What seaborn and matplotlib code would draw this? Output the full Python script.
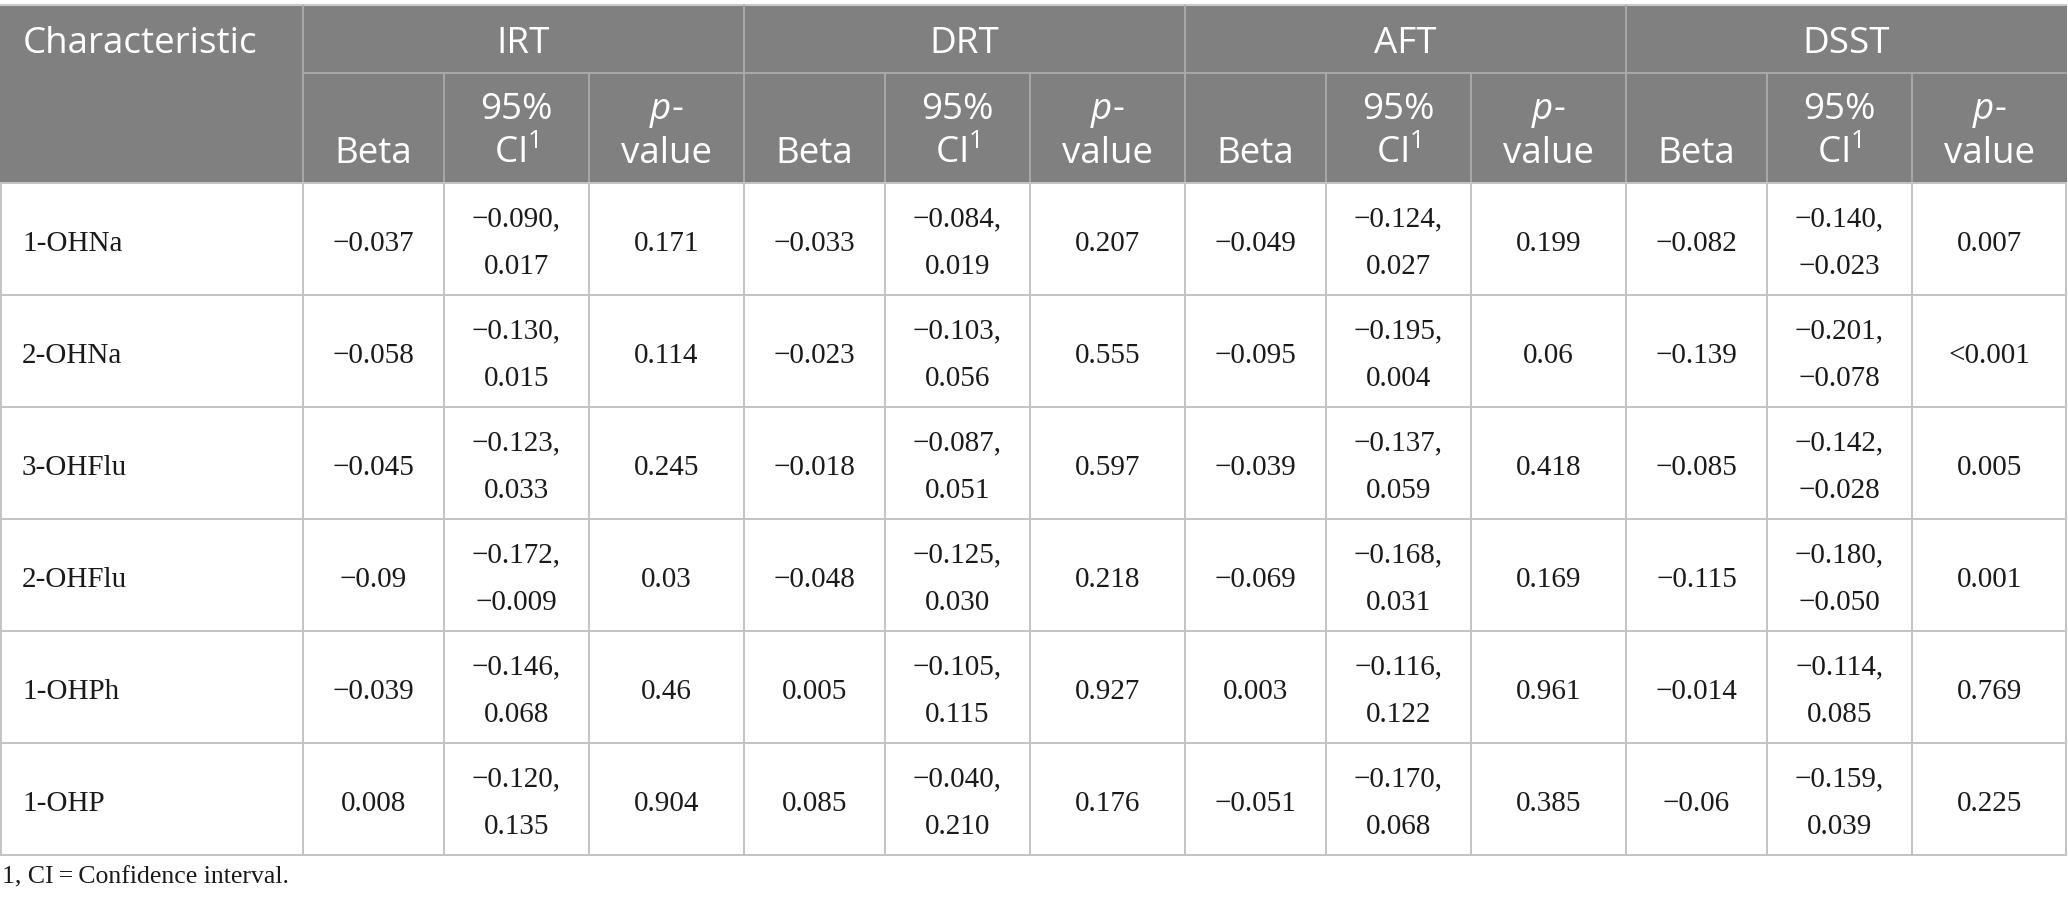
import matplotlib.pyplot as plt
import seaborn as sns

# Dados da tabela
characteristics = ['1-OHNa', '2-OHNa', '3-OHFlu', '2-OHFlu', '1-OHPh', '1-OHP']
tests = ['IRT', 'DRT', 'AFT', 'DSST']
sub_headers = ['Beta', '95%\nCI$^{1}$', '$p$-\nvalue']

irt_beta = [-0.037, -0.058, -0.045, -0.09, -0.039, 0.008]
irt_ci_low = [-0.090, -0.130, -0.123, -0.172, -0.146, -0.120]
irt_ci_high = [0.017, 0.015, 0.033, -0.009, 0.068, 0.135]
irt_p = ['0.171', '0.114', '0.245', '0.03', '0.46', '0.904']

drt_beta = [-0.033, -0.023, -0.018, -0.048, 0.005, 0.085]
drt_ci_low = [-0.084, -0.103, -0.087, -0.125, -0.105, -0.040]
drt_ci_high = [0.019, 0.056, 0.051, 0.030, 0.115, 0.210]
drt_p = ['0.207', '0.555', '0.597', '0.218', '0.927', '0.176']

aft_beta = [-0.049, -0.095, -0.039, -0.069, 0.003, -0.051]
aft_ci_low = [-0.124, -0.195, -0.137, -0.168, -0.116, -0.170]
aft_ci_high = [0.027, 0.004, 0.059, 0.031, 0.122, 0.068]
aft_p = ['0.199', '0.06', '0.418', '0.169', '0.961', '0.385']

dsst_beta = [-0.082, -0.139, -0.085, -0.115, -0.014, -0.06]
dsst_ci_low = [-0.140, -0.201, -0.142, -0.180, -0.114, -0.159]
dsst_ci_high = [-0.023, -0.078, -0.028, -0.050, 0.085, 0.039]
dsst_p = ['0.007', '<0.001', '0.005', '0.001', '0.769', '0.225']

footnote = '1, CI\u2009=\u2009Confidence interval.'

# Layout (pixels)
W, H = 2068, 907
first_col = 303
sub_widths = [141, 145, 155]
y_top, y_h1, y_h2 = 5, 73, 183
row_h = 112

HEADER_BG = '#7f807f'
HEADER_LINE = '#a9a9a9'
GRID = '#c3c3c3'
TEXT = '#1a1a1a'
HEADER_FONT = ['Open Sans', 'DejaVu Sans']
BODY_FONT = ['Liberation Serif', 'DejaVu Serif']


def fmt(value, decimals=None):
    """Formata o numero com sinal de menos tipografico"""
    s = f'{value:.{decimals}f}' if decimals else f'{value:g}'
    return s.replace('-', '\u2212')


def gerar_tabela(dados):
    """
    Desenha a tabela de regressao por teste cognitivo e salva em out.png

    :param dados: lista de tuplas (beta, ci_low, ci_high, p) por teste
    """
    sns.set_theme(style='white')
    plt.rcParams['font.family'] = HEADER_FONT
    plt.rcParams['mathtext.fontset'] = 'custom'
    plt.rcParams['mathtext.it'] = 'Open Sans:italic'
    plt.rcParams['mathtext.rm'] = 'Open Sans'

    fig = plt.figure(figsize=(W / 100, H / 100), dpi=100)
    ax = fig.add_axes([0, 0, 1, 1])
    ax.set_xlim(0, W)
    ax.set_ylim(H, 0)
    ax.axis('off')

    # Bordas das colunas
    edges = [0, first_col]
    for _ in tests:
        for w in sub_widths:
            edges.append(edges[-1] + w)
    right = edges[-1]
    group_edges = [first_col + i * sum(sub_widths) for i in range(len(tests) + 1)]
    y_bottom = y_h2 + row_h * len(characteristics)

    # Cabecalho
    ax.fill_between([0, right], y_top, y_h2, color=HEADER_BG, lw=0)
    ax.hlines(y_top, 0, right, color='#c8c8c8', lw=1.5)
    ax.hlines(y_h1, first_col, right, color=HEADER_LINE, lw=1.4)
    ax.vlines(group_edges[:-1], y_top, y_h2, color=HEADER_LINE, lw=1.4)
    ax.vlines(edges[2:-1], y_h1, y_h2, color=HEADER_LINE, lw=1.4)

    ax.text(23, 53, 'Characteristic', color='white', fontsize=26.5,
            ha='left', va='baseline', family=HEADER_FONT)
    for i, test in enumerate(tests):
        cx = (group_edges[i] + group_edges[i + 1]) / 2
        ax.text(cx, 53, test, color='white', fontsize=26.5,
                ha='center', va='baseline', family=HEADER_FONT)
        for j, label in enumerate(sub_headers):
            k = 1 + i * 3 + j
            cx = (edges[k] + edges[k + 1]) / 2
            lines = label.split('\n')
            for n, line in enumerate(reversed(lines)):
                ax.text(cx, 163 - n * 44, line, color='white', fontsize=26.5,
                        ha='center', va='baseline', family=HEADER_FONT)

    # Grade do corpo
    ax.hlines([y_h2 + r * row_h for r in range(len(characteristics) + 1)],
              0, right, color=GRID, lw=1.4)
    ax.vlines([0.7] + edges[1:-1] + [right - 0.7], y_h2, y_bottom, color=GRID, lw=1.4)

    # Valores
    body = dict(fontsize=21, color=TEXT, va='baseline', family=BODY_FONT)
    for r, name in enumerate(characteristics):
        top = y_h2 + r * row_h
        ax.text(22, top + 68, name, ha='left', **body)
        for i, (beta, lo, hi, p) in enumerate(dados):
            k = 1 + i * 3
            c_beta = (edges[k] + edges[k + 1]) / 2
            c_ci = (edges[k + 1] + edges[k + 2]) / 2
            c_p = (edges[k + 2] + edges[k + 3]) / 2
            ax.text(c_beta, top + 68, fmt(beta[r]), ha='center', **body)
            ax.text(c_ci, top + 43, fmt(lo[r], 3) + ',', ha='center', **body)
            ax.text(c_ci, top + 91, fmt(hi[r], 3), ha='center', **body)
            ax.text(c_p, top + 68, p[r], ha='center', **body)

    # Nota de rodape
    ax.text(2, 883, footnote, fontsize=18.5, color=TEXT,
            ha='left', va='baseline', family=BODY_FONT)

    plt.savefig('out.png', dpi=100)
    plt.close(fig)


dados = [
    (irt_beta, irt_ci_low, irt_ci_high, irt_p),
    (drt_beta, drt_ci_low, drt_ci_high, drt_p),
    (aft_beta, aft_ci_low, aft_ci_high, aft_p),
    (dsst_beta, dsst_ci_low, dsst_ci_high, dsst_p),
]
gerar_tabela(dados)
